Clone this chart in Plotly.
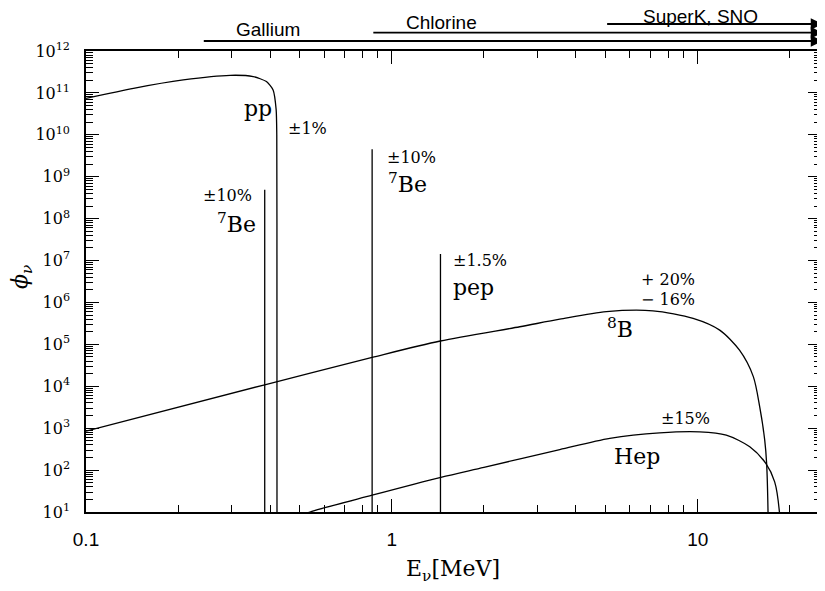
import math
import plotly.graph_objects as go

# ---- data ----
pp_E = [0.1, 0.143, 0.208, 0.296, 0.352, 0.389, 0.409, 0.4185, 0.4205, 0.421, 0.4212]
pp_logphi = [10.87, 11.11, 11.31, 11.42, 11.39, 11.27, 11.07, 10.6, 10.0, 6.0, 0.5]

b8_E = [0.1, 0.384, 0.862, 1.44, 2.62, 3.54, 5.03, 7.14, 9.66, 11.8, 13.7, 15.2, 15.95, 16.56, 16.8, 16.98, 17.0]
b8_logphi = [2.93, 4.036, 4.69, 5.08, 5.42, 5.60, 5.78, 5.80, 5.62, 5.34, 4.86, 4.23, 3.51, 2.72, 2.16, 1.0, 0.5]

hep_E = [0.50, 0.54, 0.862, 1.446, 2.0, 3.54, 5.16, 7.51, 10.15, 12.4, 14.8, 16.7, 17.85, 18.5, 18.6]
hep_logphi = [0.9, 1.0, 1.40, 1.826, 2.065, 2.49, 2.757, 2.89, 2.914, 2.835, 2.556, 2.16, 1.72, 1.0, 0.5]

line_E = [0.384, 0.862, 1.442]
line_flux = [4.9e8, 4.5e9, 1.43e7]

thresholds = [0.24, 0.86, 5.0]
detectors = ["Gallium", "Chlorine", "SuperK, SNO"]

x_major = [0.1, 1, 10]
x_major_text = ["0.1", "1", "10"]
y_major = [10 ** k for k in range(1, 13)]
y_major_text = ["10<sup>%d</sup>" % k for k in range(1, 13)]

# ---- layout geometry (page body adds an 8px offset) ----
OFF = 8
W, H = 825 - OFF, 591 - OFF
L, R, T, B = 86 - OFF, 4, 51 - OFF, 79
PW, PH = W - L - R, H - T - B
XMIN, XMAX = 0.1, 25.3
LX0, LX1 = math.log10(XMIN), math.log10(XMAX)


def px(xp):  # screen pixel -> paper
    return (xp - OFF - L) / PW


def py(yp):
    return (H - B - (yp - OFF)) / PH


SERIF = "DejaVu Serif"
SANS = "Liberation Sans"

fig = go.Figure()
line_style = dict(color="black", width=1.3)

fig.add_trace(go.Scatter(x=pp_E, y=[10 ** v for v in pp_logphi], mode="lines",
                         line=dict(shape="spline", smoothing=0.6, **line_style), showlegend=False))
fig.add_trace(go.Scatter(x=b8_E, y=[10 ** v for v in b8_logphi], mode="lines",
                         line=dict(shape="spline", smoothing=0.8, **line_style), showlegend=False))
fig.add_trace(go.Scatter(x=hep_E, y=[10 ** v for v in hep_logphi], mode="lines",
                         line=dict(shape="spline", smoothing=0.8, **line_style), showlegend=False))
for e, f in zip(line_E, line_flux):
    fig.add_trace(go.Scatter(x=[e, e], y=[1, f], mode="lines", line=line_style, showlegend=False))

ann = []


def text(s, xp, yp, size, family=SERIF, xanchor="center", angle=0):
    ann.append(dict(text=s, x=px(xp), y=py(yp), xref="paper", yref="paper", showarrow=False,
                    xanchor=xanchor, yanchor="middle", textangle=angle,
                    font=dict(family=family, size=size, color="black")))


text("pp", 258, 108, 22)
text("±1%", 307, 128, 16)
text("±10%", 411, 157, 16)
text("<sup>7</sup>Be", 407, 183, 22)
text("±10%", 254, 196, 16, xanchor="right")
text("<sup>7</sup>Be", 258, 223, 22, xanchor="right")
text("±1.5%", 451, 260, 16, xanchor="left")
text("pep", 451, 287, 22, xanchor="left")
text("+ 20%", 668, 279, 16)
text("− 16%", 668, 299, 16)
text("<sup>8</sup>B", 620, 328, 22)
text("±15%", 685, 418, 16)
text("Hep", 637, 456, 22)
text("E<sub>ν</sub>[MeV]", 453, 570, 22)
text("<i>ϕ</i><sub><i>ν</i></sub>", 21, 277, 22, angle=-90)

# detector threshold arrows (head just past the right frame edge)
arrow_y = [41, 32.7, 24]
label_pos = [(268, 30), (441, 22), (700, 16)]
head_paper = 1.002
for thr, name, ay_px, (lx, ly) in zip(thresholds, detectors, arrow_y, label_pos):
    tail_paper = (math.log10(thr) - LX0) / (LX1 - LX0)
    ann.append(dict(x=head_paper, y=py(ay_px), xref="paper", yref="paper",
                    ax=-(head_paper - tail_paper) * PW, ay=0, axref="pixel", ayref="pixel",
                    showarrow=True, arrowhead=2, arrowsize=1.3, arrowwidth=1.8,
                    arrowcolor="black", text=""))
    text(name, lx, ly, 19, family=SANS)

x_minor = [v * 0.1 for v in range(2, 10)] + list(range(2, 10)) + [20]
y_minor = [m * 10 ** k for k in range(1, 12) for m in range(2, 10)]

fig.update_layout(
    width=W, height=H, margin=dict(l=L, r=R, t=T, b=B, autoexpand=False),
    plot_bgcolor="white", paper_bgcolor="white",
    annotations=ann,
    xaxis=dict(type="log", range=[LX0, LX1], automargin=False,
               tickmode="array", tickvals=x_major, ticktext=x_major_text,
               ticks="inside", ticklen=13, tickwidth=1.2, tickcolor="black",
               minor=dict(tickmode="array", tickvals=x_minor, ticks="inside", ticklen=7,
                          tickwidth=1, tickcolor="black", showgrid=False),
               showline=True, linecolor="black", linewidth=1.6, mirror="allticks",
               showgrid=False, zeroline=False, ticklabelstandoff=9,
               tickfont=dict(family=SANS, size=19, color="black")),
    yaxis=dict(type="log", range=[1, 12], automargin=False,
               tickmode="array", tickvals=y_major, ticktext=y_major_text,
               ticks="inside", ticklen=13, tickwidth=1.2, tickcolor="black",
               minor=dict(tickmode="array", tickvals=y_minor, ticks="inside", ticklen=7,
                          tickwidth=1, tickcolor="black", showgrid=False),
               showline=True, linecolor="black", linewidth=1.6, mirror="allticks",
               showgrid=False, zeroline=False, ticklabelstandoff=11,
               tickfont=dict(family=SERIF, size=16, color="black")),
)

fig.write_html("out.html")
